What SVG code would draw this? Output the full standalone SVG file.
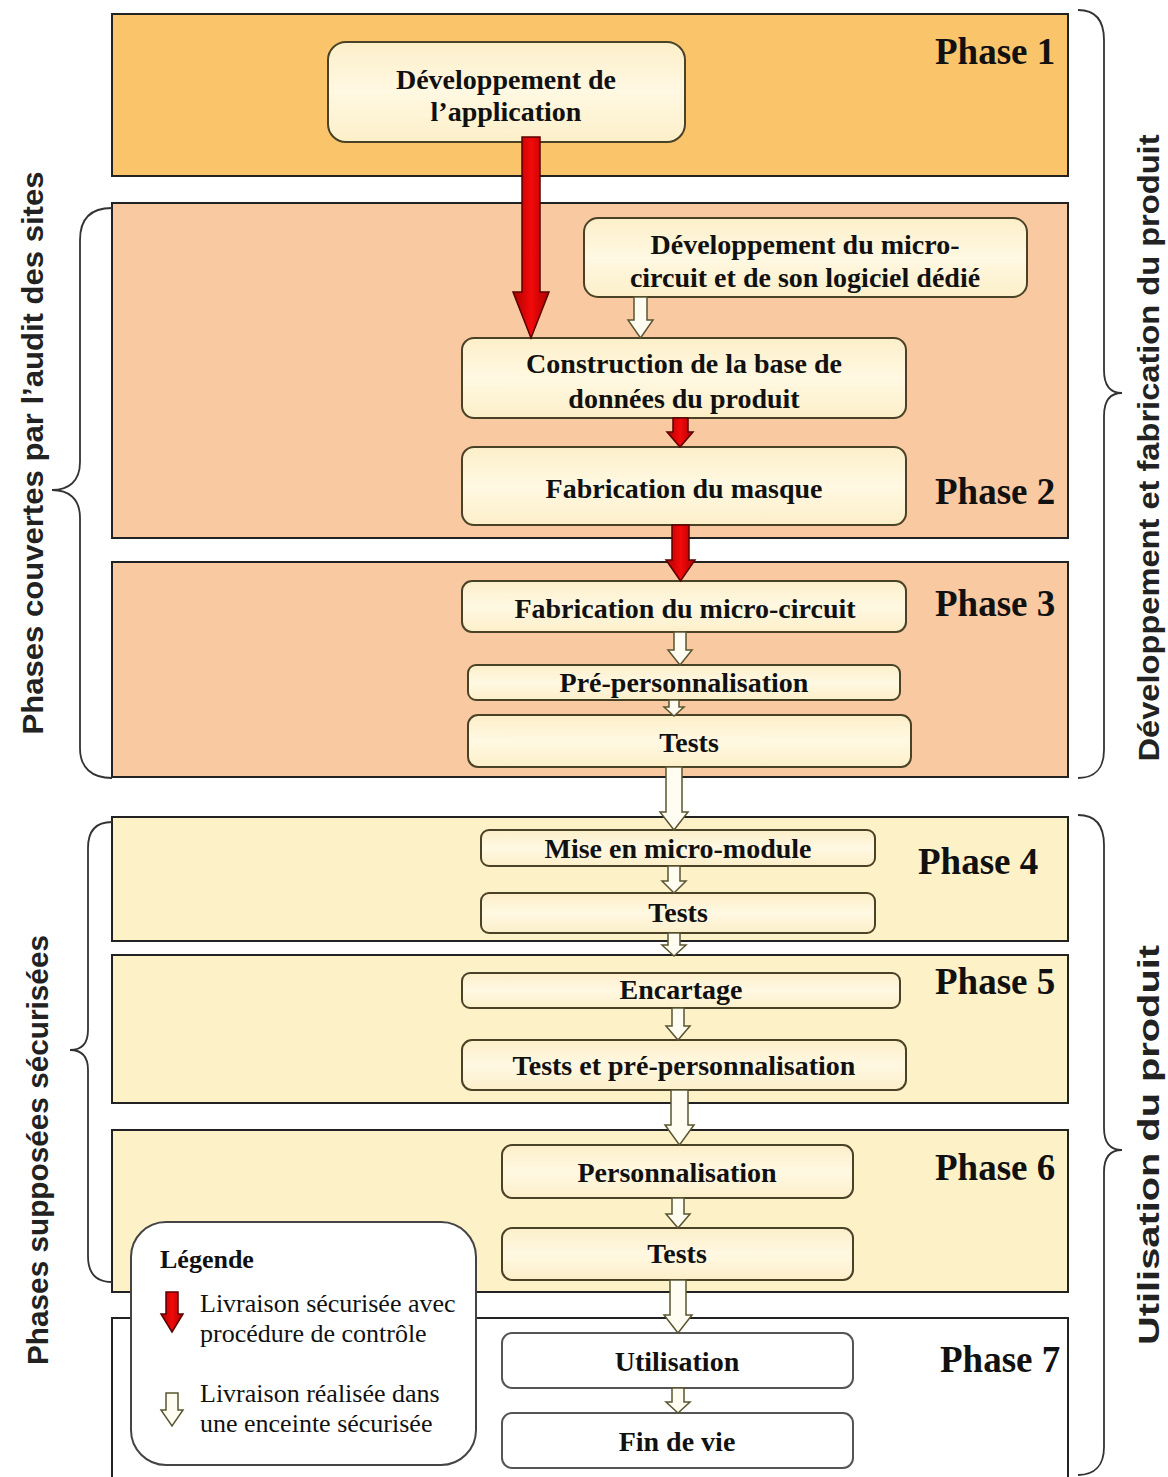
<svg xmlns="http://www.w3.org/2000/svg" width="1168" height="1477" viewBox="0 0 1168 1477">
<defs>
<linearGradient id="nodeGrad" x1="0" y1="0" x2="0" y2="1">
<stop offset="0" stop-color="#FCEFC9"/>
<stop offset="0.5" stop-color="#FFF8E2"/>
<stop offset="1" stop-color="#FCEFC9"/>
</linearGradient>
<linearGradient id="redGrad" x1="0" y1="0" x2="1" y2="0">
<stop offset="0" stop-color="#B00000"/>
<stop offset="0.5" stop-color="#F20A0A"/>
<stop offset="1" stop-color="#B00000"/>
</linearGradient>
<style>
.panel{stroke:#222;stroke-width:2}
.p1{fill:#FAC46B}
.p2{fill:#F9C9A1}
.p4{fill:#FDF1C8}
.p7{fill:#FFFFFF}
.node{fill:url(#nodeGrad);stroke:#4A4226;stroke-width:2}
.wnode{fill:#FFFFFF;stroke:#555;stroke-width:2}
.nt{font-family:"Liberation Serif",serif;font-weight:bold;font-size:28px;fill:#111;text-anchor:middle}
.ph{font-family:"Liberation Serif",serif;font-weight:bold;font-size:37px;fill:#111}
.side{font-family:"Liberation Sans",sans-serif;font-weight:bold;font-size:30px;fill:#222;text-anchor:middle}
.lg{font-family:"Liberation Serif",serif;font-size:26px;fill:#111}
.lgt{font-family:"Liberation Serif",serif;font-weight:bold;font-size:26px;fill:#111}
.red{fill:url(#redGrad);stroke:#5A0000;stroke-width:1.5}
.white{fill:#FFFDF2;stroke:#5A5530;stroke-width:1.5}
.brace{fill:none;stroke:#333;stroke-width:1.8}
</style>
</defs>
<rect width="1168" height="1477" fill="#FFFFFF"/>

<g id="phase1"><rect class="panel p1" x="112" y="14" width="956" height="162"/><text class="ph" x="935" y="64">Phase 1</text></g>
<g id="phase2"><rect class="panel p2" x="112" y="203" width="956" height="335"/><text class="ph" x="935" y="504">Phase 2</text></g>
<g id="phase3"><rect class="panel p2" x="112" y="562" width="956" height="215"/><text class="ph" x="935" y="616">Phase 3</text></g>
<g id="phase4"><rect class="panel p4" x="112" y="817" width="956" height="124"/><text class="ph" x="918" y="874">Phase 4</text></g>
<g id="phase5"><rect class="panel p4" x="112" y="955" width="956" height="148"/><text class="ph" x="935" y="994">Phase 5</text></g>
<g id="phase6"><rect class="panel p4" x="112" y="1130" width="956" height="162"/><text class="ph" x="935" y="1180">Phase 6</text></g>
<g id="phase7"><rect class="panel p7" x="112" y="1318" width="956" height="170"/><text class="ph" x="940" y="1372">Phase 7</text></g>

<g id="nodeA"><rect class="node" x="328" y="42" width="357" height="100" rx="18"/><text class="nt" x="506" y="89">Développement de</text><text class="nt" x="506" y="121">l’application</text></g>
<g id="nodeB"><rect class="node" x="584" y="218" width="443" height="79" rx="14"/><text class="nt" x="805" y="254">Développement du micro-</text><text class="nt" x="805" y="287">circuit et de son logiciel dédié</text></g>
<g id="nodeC"><rect class="node" x="462" y="338" width="444" height="80" rx="12"/><text class="nt" x="684" y="373">Construction de la base de</text><text class="nt" x="684" y="408">données du produit</text></g>
<g id="nodeD"><rect class="node" x="462" y="447" width="444" height="78" rx="12"/><text class="nt" x="684" y="498">Fabrication du masque</text></g>
<g id="nodeE"><rect class="node" x="462" y="581" width="444" height="51" rx="10"/><text class="nt" x="685" y="618">Fabrication du micro-circuit</text></g>
<g id="nodeF"><rect class="node" x="468" y="665" width="432" height="35" rx="8"/><text class="nt" x="684" y="692">Pré-personnalisation</text></g>
<g id="nodeG"><rect class="node" x="468" y="715" width="443" height="52" rx="10"/><text class="nt" x="689" y="752">Tests</text></g>
<g id="nodeH"><rect class="node" x="481" y="830" width="394" height="36" rx="8"/><text class="nt" x="678" y="858">Mise en micro-module</text></g>
<g id="nodeI"><rect class="node" x="481" y="893" width="394" height="40" rx="8"/><text class="nt" x="678" y="922">Tests</text></g>
<g id="nodeJ"><rect class="node" x="462" y="973" width="438" height="35" rx="8"/><text class="nt" x="681" y="999">Encartage</text></g>
<g id="nodeK"><rect class="node" x="462" y="1040" width="444" height="50" rx="10"/><text class="nt" x="684" y="1075">Tests et pré-personnalisation</text></g>
<g id="nodeL"><rect class="node" x="502" y="1145" width="351" height="53" rx="10"/><text class="nt" x="677" y="1182">Personnalisation</text></g>
<g id="nodeM"><rect class="node" x="502" y="1228" width="351" height="52" rx="10"/><text class="nt" x="677" y="1263">Tests</text></g>
<g id="nodeN"><rect class="wnode" x="502" y="1333" width="351" height="55" rx="10"/><text class="nt" x="677" y="1371">Utilisation</text></g>
<g id="nodeO"><rect class="wnode" x="502" y="1413" width="351" height="55" rx="10"/><text class="nt" x="677" y="1451">Fin de vie</text></g>

<g id="connectors">
<path class="red" d="M522,137 H540 V292 H549 L531,338 L513,292 H522 Z"/>
<path class="red" d="M673,418 H688 V432 H693 L680,447 L667,432 H673 Z"/>
<path class="red" d="M672,525 H689 V560 H695 L680.5,581 L666,560 H672 Z"/>
<path class="white" d="M634,297 H647 V320 H653 L640.5,338 L628,320 H634 Z"/>
<path class="white" d="M674,632 H686 V650 H692 L680,665 L668,650 H674 Z"/>
<path class="white" d="M669,700 H679 V707 H684 L674,716 L664,707 H669 Z"/>
<path class="white" d="M666,767 H682 V812 H688 L674,830 L660,812 H666 Z"/>
<path class="white" d="M668,866 H680 V881 H686 L674,893 L662,881 H668 Z"/>
<path class="white" d="M668,933 H680 V945 H686 L674,956 L662,945 H668 Z"/>
<path class="white" d="M672,1008 H684 V1026 H690 L678,1040 L666,1026 H672 Z"/>
<path class="white" d="M671,1090 H688 V1125 H694 L679.5,1145 L665,1125 H671 Z"/>
<path class="white" d="M672,1198 H684 V1214 H690 L678,1228 L666,1214 H672 Z"/>
<path class="white" d="M670,1280 H686 V1315 H692 L678,1333 L664,1315 H670 Z"/>
<path class="white" d="M672,1388 H684 V1402 H690 L678,1413 L666,1402 H672 Z"/>
</g>

<g id="brace-left-top">
<path class="brace" d="M112,208 C92,208 80,218 80,240 L80,462 C80,482 68,490 52,490 C68,490 80,498 80,518 L80,748 C80,768 92,778 112,778"/>
<text class="side" transform="translate(43,453) rotate(-90)" textLength="563" lengthAdjust="spacingAndGlyphs">Phases couvertes par l’audit des sites</text>
</g>
<g id="brace-left-bottom">
<path class="brace" d="M112,822 C96,822 88,830 88,848 L88,1030 C88,1044 82,1050 70,1050 C82,1050 88,1056 88,1070 L88,1256 C88,1274 96,1282 112,1282"/>
<text class="side" transform="translate(48,1150) rotate(-90)" textLength="430" lengthAdjust="spacingAndGlyphs">Phases supposées sécurisées</text>
</g>
<g id="brace-right-top">
<path class="brace" d="M1078,10 C1095,10 1104,20 1104,40 L1104,370 C1104,385 1110,393 1122,393 C1110,393 1104,401 1104,416 L1104,750 C1104,768 1095,778 1078,778"/>
<text class="side" transform="translate(1159,448) rotate(-90)" textLength="627" lengthAdjust="spacingAndGlyphs">Développement et fabrication du produit</text>
</g>
<g id="brace-right-bottom">
<path class="brace" d="M1078,815 C1095,815 1104,825 1104,845 L1104,1128 C1104,1143 1110,1150 1122,1150 C1110,1150 1104,1157 1104,1172 L1104,1447 C1104,1465 1095,1475 1078,1475"/>
<text class="side" transform="translate(1159,1145) rotate(-90)" textLength="400" lengthAdjust="spacingAndGlyphs">Utilisation du produit</text>
</g>

<g id="legend">
<rect x="131" y="1222" width="345" height="243" rx="35" fill="#FFFFFF" stroke="#444" stroke-width="2"/>
<text class="lgt" x="160" y="1268">Légende</text>
<path class="red" d="M166,1292 H178 V1314 H183 L172,1332 L161,1314 H166 Z"/>
<text class="lg" x="200" y="1312">Livraison sécurisée avec</text>
<text class="lg" x="200" y="1342">procédure de contrôle</text>
<path class="white" d="M166,1393 H178 V1410 H183 L172,1426 L161,1410 H166 Z"/>
<text class="lg" x="200" y="1402">Livraison réalisée dans</text>
<text class="lg" x="200" y="1432">une enceinte sécurisée</text>
</g>
</svg>
